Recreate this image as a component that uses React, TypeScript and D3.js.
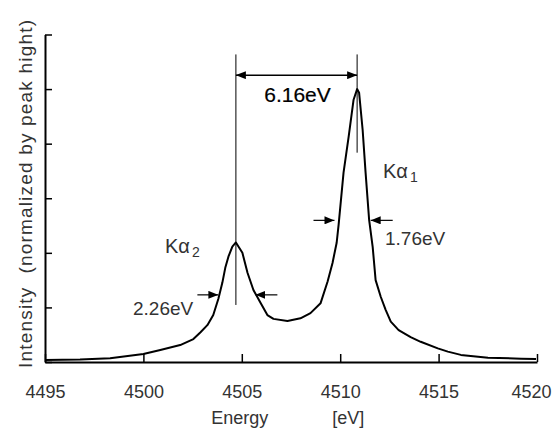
import { useEffect, useRef } from 'react';
import * as d3 from 'd3';

// spectrum: energy [eV], intensity normalized by Ka1 peak
const energy = [
  4495.0, 4496.78, 4498.31, 4500.0, 4500.86, 4501.87, 4502.54, 4502.89, 4503.25, 4503.55,
  4503.81, 4504.01, 4504.16, 4504.32, 4504.52, 4504.7, 4505.03, 4505.29, 4505.59, 4505.95,
  4506.3, 4506.61, 4507.32, 4507.98, 4508.49, 4509.0, 4509.36, 4509.61, 4509.82, 4509.92,
  4510.17, 4510.43, 4510.68, 4510.86, 4510.96, 4511.14, 4511.29, 4511.47, 4511.65, 4511.8,
  4512.06, 4512.31, 4512.57, 4512.97, 4513.58, 4514.09, 4514.96, 4515.47, 4516.13, 4517.51,
  4519.19, 4519.95,
];
const intensity = [
  0.007, 0.009, 0.014, 0.029, 0.044, 0.062, 0.084, 0.108, 0.135, 0.172,
  0.232, 0.29, 0.345, 0.386, 0.423, 0.438, 0.4, 0.327, 0.264, 0.217,
  0.172, 0.158, 0.15, 0.16, 0.179, 0.215, 0.295, 0.363, 0.437, 0.503,
  0.694, 0.826, 0.961, 1.0, 0.987, 0.851, 0.694, 0.521, 0.422, 0.3,
  0.239, 0.191, 0.148, 0.117, 0.091, 0.074, 0.05, 0.038, 0.026, 0.016,
  0.012, 0.011,
];

const xTicks = [4495, 4500, 4505, 4510, 4515, 4520];
const yTicks = [0, 0.2, 0.4, 0.6, 0.8, 1.0, 1.2];

// peak positions and markers
const peakEnergy = [4504.7, 4510.86];
const peakLineTop = [1.127, 1.127];
const peakLineBottom = [0.209, 0.767];
const splitLevel = 1.051;
const splitLabel = '6.16eV';

// FWHM arrow tips (left, right) and level
const fwhmLeft = [4503.81, 4509.71];
const fwhmRight = [4505.69, 4511.55];
const fwhmLevel = [0.246, 0.519];
const fwhmLabel = ['2.26eV', '1.76eV'];

const W = 555;
const H = 430;

const App = () => {
  const svgRef = useRef<SVGSVGElement>(null);

  useEffect(() => {
    const margin = { top: 34.5, right: 18, bottom: 68, left: 45 };
    const svg = d3.select(svgRef.current).attr('width', W).attr('height', H);
    svg.selectAll('*').remove();

    const x = d3.scaleLinear().domain([4495, 4520]).range([margin.left, W - margin.right]);
    const y = d3.scaleLinear().domain([0, 1.2]).range([H - margin.bottom, margin.top]);
    const font = '"Liberation Sans", Arial, sans-serif';

    const defs = svg.append('defs');
    defs
      .append('marker')
      .attr('id', 'head')
      .attr('viewBox', '0 0 10 8')
      .attr('refX', 10)
      .attr('refY', 4)
      .attr('markerWidth', 10)
      .attr('markerHeight', 8)
      .attr('markerUnits', 'userSpaceOnUse')
      .attr('orient', 'auto-start-reverse')
      .append('path')
      .attr('d', 'M0,0 L10,4 L0,8 Z')
      .attr('fill', '#000');

    // axes
    const xAxis = svg
      .append('g')
      .attr('transform', `translate(0,${y(0)})`)
      .call(d3.axisBottom(x).tickValues(xTicks).tickSizeInner(-8).tickSizeOuter(0).tickFormat(d3.format('d')));
    xAxis.select('.domain').attr('stroke-width', 2);
    xAxis.selectAll('.tick line').attr('stroke-width', 1.5);
    xAxis
      .selectAll<SVGTextElement, number>('.tick text')
      .attr('y', 0)
      .attr('dy', 0)
      .attr('transform', (d) => (d === 4520 ? 'translate(-6,36)' : 'translate(0,36)'))
      .attr('font-family', font)
      .attr('font-size', 18)
      .attr('fill', '#333');

    const yAxis = svg
      .append('g')
      .attr('transform', `translate(${x(4495)},0)`)
      .call(d3.axisLeft(y).tickValues(yTicks).tickSizeInner(-7).tickSizeOuter(0).tickFormat(() => ''));
    yAxis.select('.domain').attr('stroke-width', 2);
    yAxis.selectAll('.tick line').attr('stroke-width', 1.5);

    // axis titles
    svg
      .append('text')
      .attr('x', x(4505) - 2)
      .attr('y', 424)
      .attr('text-anchor', 'middle')
      .attr('font-family', font)
      .attr('font-size', 18)
      .attr('fill', '#333')
      .text('Energy');
    svg
      .append('text')
      .attr('x', x(4510) + 8)
      .attr('y', 424)
      .attr('text-anchor', 'middle')
      .attr('font-family', font)
      .attr('font-size', 18)
      .attr('fill', '#333')
      .text('[eV]');
    svg
      .append('text')
      .attr('transform', `translate(32,${(20 + 368) / 2}) rotate(-90)`)
      .attr('text-anchor', 'middle')
      .attr('font-family', font)
      .attr('font-size', 19)
      .attr('fill', '#333')
      .attr('textLength', 348)
      .attr('lengthAdjust', 'spacing')
      .style('white-space', 'pre')
      .text('Intensity  (normalized by peak hight)');

    // spectrum
    const pts: [number, number][] = energy.map((e, i) => [e, intensity[i]]);
    const line = d3
      .line<[number, number]>()
      .x((d) => x(d[0]))
      .y((d) => y(d[1]));
    svg
      .append('path')
      .datum(pts)
      .attr('d', line)
      .attr('fill', 'none')
      .attr('stroke', '#000')
      .attr('stroke-width', 2)
      .attr('stroke-linejoin', 'round');

    // peak marker lines
    peakEnergy.forEach((e, i) => {
      svg
        .append('line')
        .attr('x1', x(e))
        .attr('x2', x(e))
        .attr('y1', y(peakLineTop[i]))
        .attr('y2', y(peakLineBottom[i]))
        .attr('stroke', '#000')
        .attr('stroke-width', 1);
    });

    // split arrow
    svg
      .append('line')
      .attr('x1', x(peakEnergy[0]))
      .attr('x2', x(peakEnergy[1]))
      .attr('y1', y(splitLevel))
      .attr('y2', y(splitLevel))
      .attr('stroke', '#000')
      .attr('stroke-width', 1.5)
      .attr('marker-start', 'url(#head)')
      .attr('marker-end', 'url(#head)');
    svg
      .append('text')
      .attr('x', (x(peakEnergy[0]) + x(peakEnergy[1])) / 2 + 1)
      .attr('y', 101.5)
      .attr('text-anchor', 'middle')
      .attr('font-family', font)
      .attr('font-size', 21)
      .attr('fill', '#000')
      .attr('stroke', '#000')
      .attr('stroke-width', 0.2)
      .text(splitLabel);

    // FWHM arrows
    fwhmLevel.forEach((lv, i) => {
      const yy = y(lv);
      svg
        .append('line')
        .attr('x1', x(fwhmLeft[i]) - 21)
        .attr('x2', x(fwhmLeft[i]))
        .attr('y1', yy)
        .attr('y2', yy)
        .attr('stroke', '#000')
        .attr('stroke-width', 1.2)
        .attr('marker-end', 'url(#head)');
      svg
        .append('line')
        .attr('x1', x(fwhmRight[i]) + 22)
        .attr('x2', x(fwhmRight[i]))
        .attr('y1', yy)
        .attr('y2', yy)
        .attr('stroke', '#000')
        .attr('stroke-width', 1.2)
        .attr('marker-end', 'url(#head)');
    });

    svg
      .append('text')
      .attr('x', 133)
      .attr('y', 315)
      .attr('font-family', font)
      .attr('font-size', 19)
      .attr('fill', '#333')
      .text(fwhmLabel[0]);
    svg
      .append('text')
      .attr('x', 385)
      .attr('y', 245)
      .attr('font-family', font)
      .attr('font-size', 19)
      .attr('fill', '#333')
      .text(fwhmLabel[1]);

    // line labels
    const kLabel = (lx: number, ly: number, sub: string) => {
      const t = svg
        .append('text')
        .attr('x', lx)
        .attr('y', ly)
        .attr('font-family', font)
        .attr('font-size', 20)
        .attr('fill', '#333');
      t.append('tspan').text('Kα');
      t.append('tspan').attr('dx', 2).attr('dy', 4).attr('font-size', 14).text(sub);
    };
    kLabel(165, 253, '2');
    kLabel(383, 178, '1');
  }, []);

  return (
    <div>
      <svg ref={svgRef} style={{ position: 'absolute', left: 0, top: 0, background: '#fff' }}></svg>
    </div>
  );
};

export default App;
